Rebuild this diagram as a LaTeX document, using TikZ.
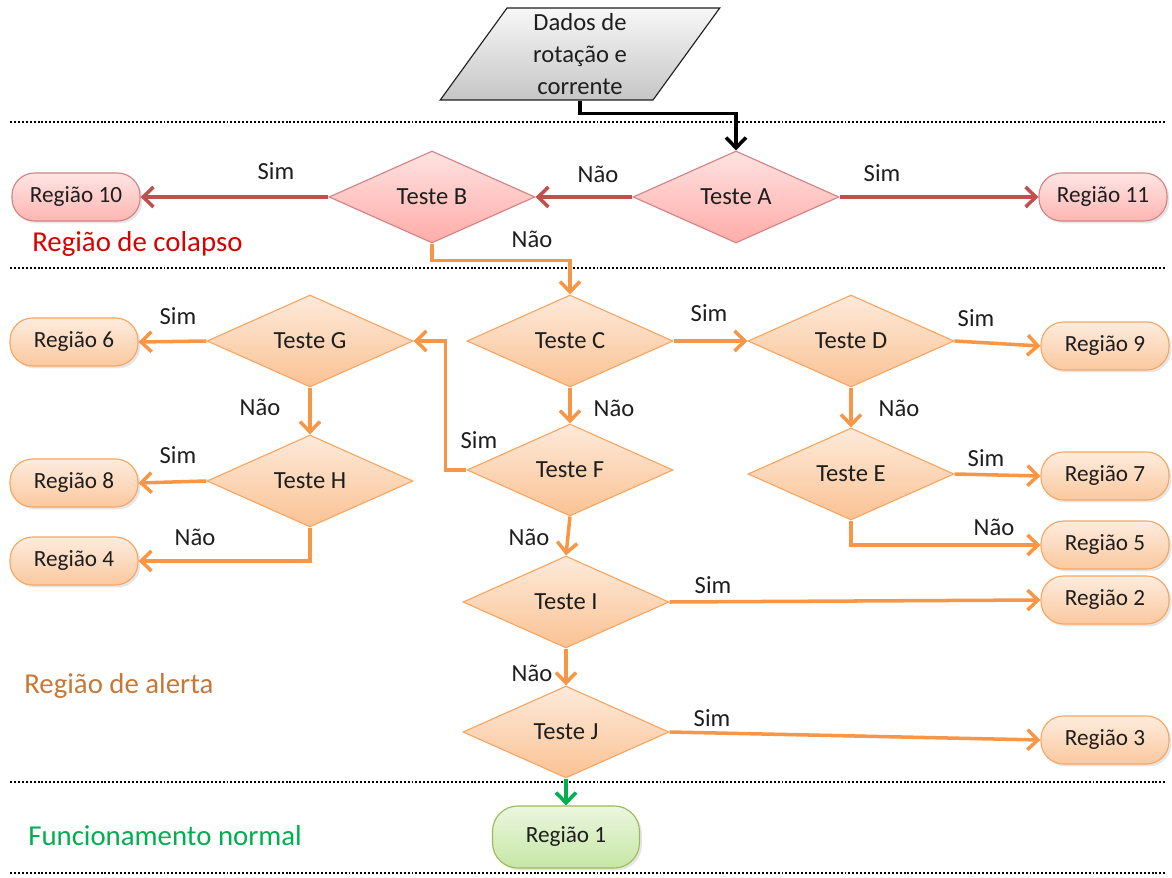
\documentclass[tikz,border=0pt]{standalone}
\usepackage{fontspec}
\setmainfont{Carlito}
\usetikzlibrary{arrows.meta,shapes.geometric,shadows}
\definecolor{colapso}{RGB}{192,80,77}
\definecolor{rosa}{RGB}{255,112,106}
\definecolor{alerta}{RGB}{247,150,70}
\definecolor{lima}{RGB}{146,208,80}
\definecolor{oliva}{RGB}{155,187,89}
\definecolor{verde}{RGB}{0,176,80}
\definecolor{ink}{RGB}{30,30,30}
\tikzset{
  >={Straight Barb[length=2.6mm,width=5mm]},
  test/.style={diamond,draw=#1!85,line width=0.8pt,top color=#1!20,bottom color=#1!58,
    minimum width=5.15cm,minimum height=2.3cm,inner sep=0pt,text=ink,
    font=\fontsize{17.5}{20}\selectfont},
  test/.default=alerta,
  regiao/.style={draw=#1!85,line width=0.8pt,rounded corners=16pt,top color=#1!18,bottom color=#1!52,
    minimum width=3.2cm,minimum height=1.2cm,inner sep=0pt,text=ink,
    font=\fontsize{16.5}{19}\selectfont,
    drop shadow={opacity=0.2,shadow xshift=0.6mm,shadow yshift=-0.6mm}},
  regiao/.default=alerta,
  % tons da faixa de colapso
  colapso/.style={draw=colapso!70},
  dados/.style={trapezium,trapezium left angle=62,trapezium right angle=118,
    trapezium stretches=true,minimum width=7cm,minimum height=2.3cm,inner sep=0pt,
    draw=ink,line width=0.8pt,top color=gray!6,bottom color=gray!45,
    align=center,text=ink,font=\fontsize{17.5}{22.5}\selectfont},
  flow/.style={->,line width=2.5pt,draw=#1},
  flow/.default=alerta,
  lbl/.style={font=\fontsize{17.5}{20}\selectfont,text=ink,inner sep=1pt},
  zone/.style={anchor=west,inner sep=0pt,font=\fontsize{20.5}{24}\selectfont,text=#1},
  sep/.style={line width=1.4pt,dash pattern=on 1.4pt off 1.4pt},
}
\begin{document}
\begin{tikzpicture}
  \useasboundingbox (0,0) rectangle (29.3,21.925);

  % faixas
  \foreach \y in {18.875,15.225,2.375,0.1}
    \draw[sep] (0.25,\y) -- (29.125,\y);
  \node[zone=red!85!black] (zcol) at (0.8,15.825) {Região de colapso};
  \node[zone=alerta!80!black] (zal) at (0.6,4.775) {Região de alerta};
  \node[zone=verde] (znor) at (0.7,1.025) {Funcionamento normal};

  % entrada
  \node[dados] (in) at (14.5,20.575) {Dados de\\rotação e\\corrente};

  % testes
  \node[test=rosa,colapso] (A) at (18.4,17.0) {Teste A};
  \node[test=rosa,colapso] (B) at (10.8,17.0) {Teste B};
  \node[test] (C) at (14.25,13.4) {Teste C};
  \node[test] (D) at (21.275,13.4) {Teste D};
  \node[test] (E) at (21.275,10.075) {Teste E};
  \node[test] (F) at (14.25,10.175) {Teste F};
  \node[test] (G) at (7.75,13.4) {Teste G};
  \node[test] (H) at (7.75,9.9) {Teste H};
  \node[test] (I) at (14.15,6.875) {Teste I};
  \node[test] (J) at (14.15,3.625) {Teste J};

  % regioes
  \foreach \n/\x/\y in {10/1.9/17.0,11/27.575/17.0}
    \node[regiao=rosa,colapso] (r\n) at (\x,\y) {Região \n};
  \foreach \n/\x/\y in {6/1.85/13.375,8/1.85/9.85,4/1.85/7.9,9/27.625/13.275,
      7/27.625/10.025,5/27.625/8.3,2/27.625/6.925,3/27.625/3.425}
    \node[regiao] (r\n) at (\x,\y) {Região \n};
  \node[regiao=lima,draw=oliva,minimum width=3.675cm,minimum height=1.55cm,rounded corners=18pt]
    (r1) at (14.15,1.0) {Região 1};

  % ligacoes
  \draw[flow=black] (in.south) -- ++(0,-0.325) -| (A.north);
  \draw[flow=colapso] (A.west) -- (B.east);
  \draw[flow=colapso] (A.east) -- (r11.west);
  \draw[flow=colapso] (B.west) -- (r10.east);
  \draw[flow] (B.south) -- ++(0,-0.425) -| (C.north);
  \draw[flow] (C.east) -- (D.west);
  \draw[flow] (D.east) -- (r9.west);
  \draw[flow] (D.south) -- (E.north);
  \draw[flow] (E.east) -- (r7.west);
  \draw[flow] (E.south) |- (r5.west);
  \draw[flow] (C.south) -- (F.north);
  \draw[flow] (F.west) -- ++(-0.525,0) |- (G.east);
  \draw[flow] (G.west) -- (r6.east);
  \draw[flow] (G.south) -- (H.north);
  \draw[flow] (H.west) -- (r8.east);
  \draw[flow] (H.south) |- (r4.east);
  \draw[flow] (F.south) -- (I.north);
  \draw[flow] (I.east) -- (r2.west);
  \draw[flow] (I.south) -- (J.north);
  \draw[flow] (J.east) -- (r3.west);
  \draw[flow=verde] (J.south) -- (r1.north);

  % rotulos
  \foreach \t/\x/\y [count=\i] in {Sim/6.9/17.65,Não/14.95/17.575,Sim/22.05/17.6,Não/13.3/15.95,
      Sim/17.725/14.1,Sim/24.4/13.975,Não/22.475/11.725,Não/15.35/11.725,Sim/11.975/10.925,
      Sim/4.45/14.025,Não/6.5/11.75,Sim/4.45/10.55,Não/4.875/8.5,Sim/24.65/10.475,
      Não/24.85/8.75,Não/13.225/8.5,Sim/17.825/7.3,Não/13.3/5.1,Sim/17.8/3.975}
    \node[lbl] (l\i) at (\x,\y) {\t};
\end{tikzpicture}
\end{document}
